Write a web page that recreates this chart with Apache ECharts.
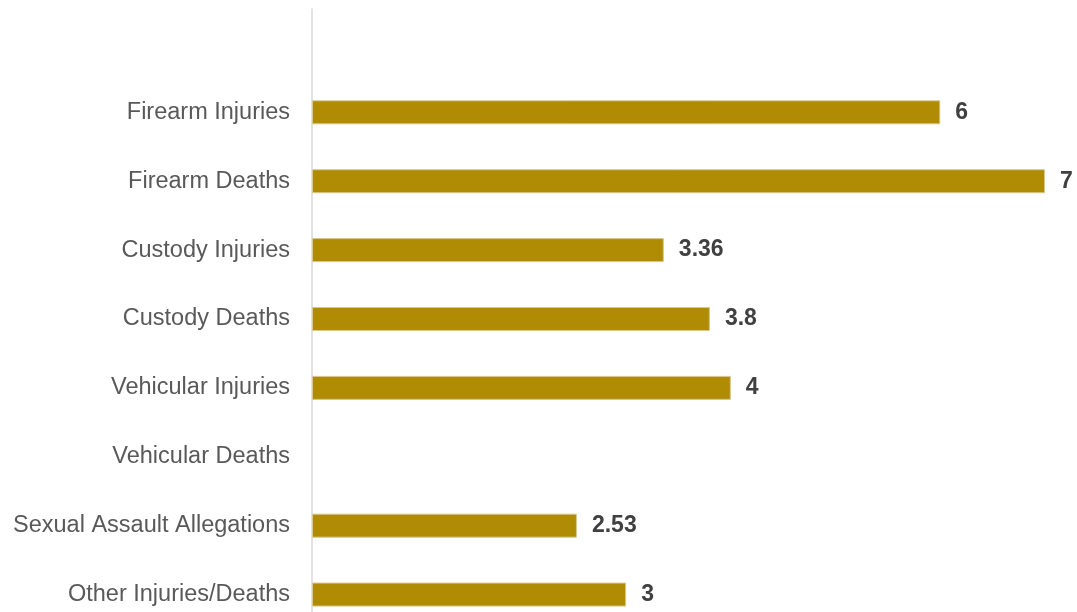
<!DOCTYPE html>
<html><head><meta charset="utf-8">
<script src="https://cdn.jsdelivr.net/npm/echarts@6/dist/echarts.min.js"></script>
<style>html,body{margin:0;padding:0;background:#fff;overflow:hidden;width:1077px;height:612px}#c{width:1077px;height:640px}</style>
</head><body><div id="c"></div>
<script>
const categories = ["", "Firearm Injuries", "Firearm Deaths", "Custody Injuries", "Custody Deaths", "Vehicular Injuries", "Vehicular Deaths", "Sexual Assault Allegations", "Other Injuries/Deaths"];
const values = [null, 6, 7, 3.36, 3.8, 4, null, 2.53, 3];

const chart = echarts.init(document.getElementById('c'), null, {renderer: 'canvas'});
chart.setOption({
  animation: false,
  grid: {left: 312, top: 9, width: 733, height: 620, containLabel: false},
  xAxis: {type: 'value', min: 0, max: 7, show: false},
  yAxis: {
    type: 'category', inverse: true, data: categories,
    axisLine: {lineStyle: {color: '#d9d9d9', width: 1.5}},
    axisTick: {show: false},
    axisLabel: {fontFamily: 'Liberation Sans', fontSize: 23.5, color: '#595959', margin: 22}
  },
  series: [{
    type: 'bar', data: values, barWidth: 24,
    itemStyle: {color: '#B08B04', borderColor: '#d6c98f', borderWidth: 1},
    label: {show: true, position: 'right', distance: 15, fontFamily: 'Liberation Sans', fontSize: 23, fontWeight: 'bold', color: '#404040',
      formatter: p => p.value == null ? '' : String(p.value)}
  }]
});
</script></body></html>
